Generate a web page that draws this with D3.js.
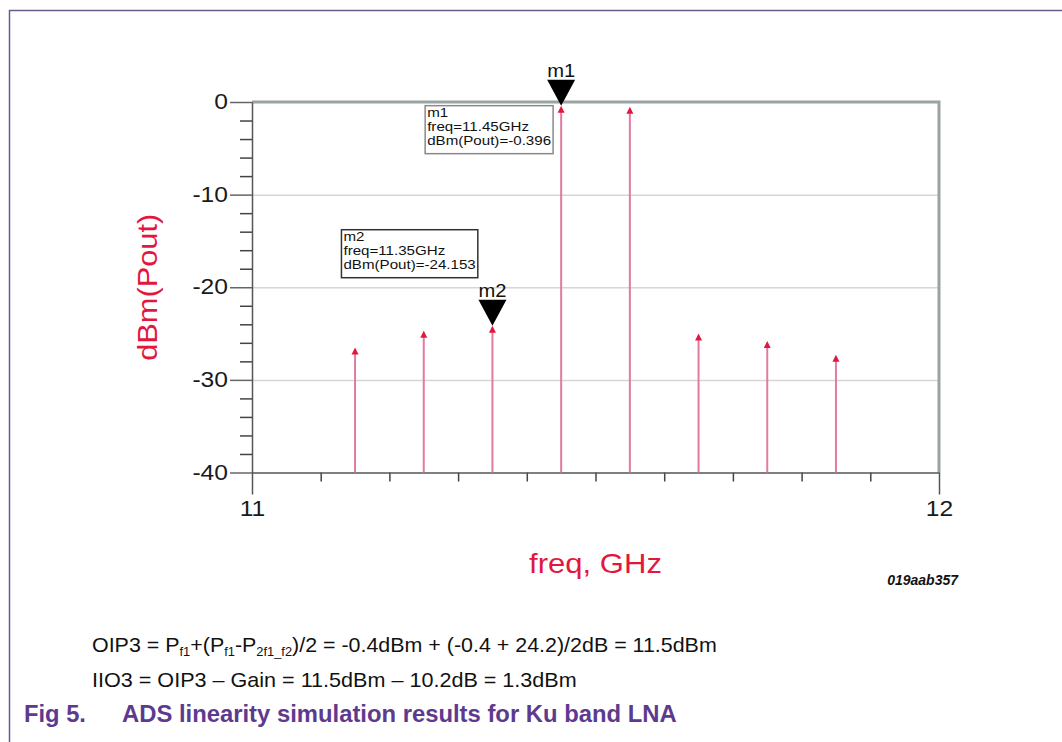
<!DOCTYPE html>
<html>
<head>
<meta charset="utf-8">
<script src="https://cdn.jsdelivr.net/npm/d3@7"></script>
<style>
  body { margin: 0; background: #fff; }
  svg { display: block; font-family: "Liberation Sans", Arial, sans-serif; }
</style>
</head>
<body>
<svg id="fig" width="1062" height="742"></svg>
<script>
// spectrum
const freqs = [11.15, 11.25, 11.35, 11.45, 11.55, 11.65, 11.75, 11.85]
const pout = [-26.5, -24.7, -24.153, -0.396, -0.5, -25.0, -25.8, -27.3]

// markers
const markerNames = ['m1', 'm2']
const markerFreqs = [11.45, 11.35]
const markerValues = [-0.396, -24.153]

const yMajor = [0, -10, -20, -30, -40]
const xMajor = [11, 12]

const svg = d3.select('#fig')
const pLeft = 252, pRight = 939, pTop = 102, pBottom = 472.5
const SX = 1.12   // source text is a bit wider than Arial

const x = d3.scaleLinear().domain([11, 12]).range([pLeft, pRight])
const y = d3.scaleLinear().domain([-40, 0]).range([pBottom, pTop])

// page frame
svg.append('path')
    .attr('d', 'M9.5,742V10.5H1062')
    .attr('fill', 'none')
    .attr('stroke', '#6c5c8e')
    .attr('stroke-width', 1.5)

// grid
svg.append('g')
    .attr('transform', `translate(${pLeft},0)`)
    .call(d3.axisLeft(y).tickValues([-10, -20, -30]).tickSize(-(pRight - pLeft)).tickFormat(''))
    .call(g => g.select('.domain').remove())
    .selectAll('line')
    .attr('stroke', '#d6d6d6')
    .attr('stroke-width', 1.5)

// top / right frame of the plot
svg.append('path')
    .attr('d', `M${pLeft},${pTop}H${pRight}V${pBottom}`)
    .attr('fill', 'none')
    .attr('stroke', '#98a3a2')
    .attr('stroke-width', 3)

// y minor ticks
svg.append('g')
    .attr('transform', `translate(${pLeft},0)`)
    .call(d3.axisLeft(y).tickValues(d3.range(-40, 1, 2).filter(v => v % 10 != 0)).tickSize(12).tickFormat(''))
    .call(g => g.select('.domain').remove())
    .selectAll('line')
    .attr('stroke', '#444')
    .attr('stroke-width', 1.5)

// x minor ticks
svg.append('g')
    .attr('transform', `translate(0,${pBottom})`)
    .call(d3.axisBottom(x).tickValues(d3.range(1, 10).map(i => 11 + i / 10)).tickSize(9).tickFormat(''))
    .call(g => g.select('.domain').remove())
    .selectAll('line')
    .attr('stroke', '#444')
    .attr('stroke-width', 1.5)

// y major ticks + labels
let yAxis = svg.append('g')
    .attr('transform', `translate(${pLeft},0)`)
    .call(d3.axisLeft(y).tickValues(yMajor).tickSize(22).tickSizeOuter(0).tickPadding(2).tickFormat(d => String(d)))
yAxis.select('.domain').attr('stroke', '#555').attr('stroke-width', 1.5)
yAxis.selectAll('line').attr('stroke', '#666').attr('stroke-width', 1.5)
yAxis.selectAll('text')
    .attr('font-size', 22)
    .attr('fill', '#1a1a1a')
    .attr('font-family', '"Liberation Sans", Arial, sans-serif')
    .attr('x', -24 / SX)
    .attr('dy', '0.3em')
    .attr('transform', `scale(${SX},1)`)

// x major ticks + labels
let xAxis = svg.append('g')
    .attr('transform', `translate(0,${pBottom})`)
    .call(d3.axisBottom(x).tickValues(xMajor).tickSize(22).tickSizeOuter(0).tickPadding(6).tickFormat(d => String(d)))
xAxis.select('.domain').attr('stroke', '#555').attr('stroke-width', 1.5)
xAxis.selectAll('line').attr('stroke', '#555').attr('stroke-width', 1.5)
xAxis.selectAll('text')
    .attr('font-size', 22)
    .attr('fill', '#1a1a1a')
    .attr('font-family', '"Liberation Sans", Arial, sans-serif')
    .attr('transform', `scale(${SX},1)`)

// stems
let stems = svg.append('g').selectAll('g')
    .data(freqs)
    .enter()
    .append('g')

stems.append('line')
    .attr('x1', d => x(d))
    .attr('x2', d => x(d))
    .attr('y1', y(-40))
    .attr('y2', (d, i) => y(pout[i]) + 5)
    .attr('stroke', '#e07ba2')
    .attr('stroke-width', 2)

stems.append('path')
    .attr('d', (d, i) => `M${x(d)},${y(pout[i])}l3.5,7h-7z`)
    .attr('fill', '#e3173e')

// helper for the stretched text
function txt(parent, px, py, s, size, anchor) {
    return parent.append('text')
        .attr('transform', `translate(${px},${py}) scale(${SX},1)`)
        .attr('text-anchor', anchor)
        .attr('font-size', size)
        .text(s)
}

// markers
const boxOffsets = [[-135, 0], [-150, -96]]
markerNames.forEach((name, i) => {
    let mx = x(markerFreqs[i]), my = y(markerValues[i])
    let g = svg.append('g')
    g.append('path')
        .attr('d', `M${mx},${my}l14,-26h-28z`)
        .attr('fill', '#000')
    txt(g, mx, my - 29, name, 18, 'middle').attr('fill', '#111')

    let bx = mx + boxOffsets[i][0], by = my + boxOffsets[i][1]
    let box = g.append('rect')
        .attr('x', bx - 1)
        .attr('y', by)
        .attr('height', 48)
        .attr('fill', '#fff')
        .attr('stroke', i == 0 ? '#8a8a8a' : '#333')
        .attr('stroke-width', 1.5)
    let lines = [name, 'freq=' + markerFreqs[i] + 'GHz', 'dBm(Pout)=' + markerValues[i]]
    let w = 0
    lines.forEach((s, j) => {
        let t = txt(g, bx + 1, by + 11 + j * 14, s, 13.5, 'start').attr('fill', '#111')
        w = Math.max(w, t.node().getBBox().width * SX)
    })
    box.attr('width', w + 4)
})

// axis titles
svg.append('text')
    .attr('transform', `translate(157,${(pTop + pBottom) / 2}) rotate(-90) scale(1.14,1)`)
    .attr('text-anchor', 'middle')
    .attr('font-size', 27)
    .attr('fill', '#e3173e')
    .text('dBm(Pout)')

svg.append('text')
    .attr('transform', `translate(${(pLeft + pRight) / 2},573) scale(1.15,1)`)
    .attr('text-anchor', 'middle')
    .attr('font-size', 27)
    .attr('fill', '#e3173e')
    .text('freq, GHz')

svg.append('text')
    .attr('x', 958)
    .attr('y', 585)
    .attr('text-anchor', 'end')
    .attr('font-size', 14)
    .attr('font-weight', 'bold')
    .attr('font-style', 'italic')
    .attr('fill', '#111')
    .text('019aab357')

// stretch a text to a measured width
function fit(t, px, py, width) {
    let w = t.node().getBBox().width
    t.attr('transform', `translate(${px},${py}) scale(${width / w},1)`)
}

// formulas under the chart
let f1 = svg.append('text').attr('font-size', 20).attr('fill', '#111')
f1.append('tspan').text('OIP3 = P')
f1.append('tspan').attr('font-size', 12).attr('dy', 4).text('f1')
f1.append('tspan').attr('dy', -4).text('+(P')
f1.append('tspan').attr('font-size', 12).attr('dy', 4).text('f1')
f1.append('tspan').attr('dy', -4).text('-P')
f1.append('tspan').attr('font-size', 12).attr('dy', 4).text('2f1_f2')
f1.append('tspan').attr('dy', -4).text(')/2 = -0.4dBm + (-0.4 + 24.2)/2dB = 11.5dBm')
fit(f1, 92, 652, 625)

let f2 = svg.append('text').attr('font-size', 20).attr('fill', '#111')
    .text('IIO3 = OIP3 \u2013 Gain = 11.5dBm \u2013 10.2dB = 1.3dBm')
fit(f2, 92, 687, 485)

let cap1 = svg.append('text').attr('font-size', 24).attr('font-weight', 'bold').attr('fill', '#5e3a8f')
    .text('Fig 5.')
fit(cap1, 24, 722, 62)
let cap2 = svg.append('text').attr('font-size', 24).attr('font-weight', 'bold').attr('fill', '#5e3a8f')
    .text('ADS linearity simulation results for Ku band LNA')
fit(cap2, 122, 722, 555)
</script>
</body>
</html>
